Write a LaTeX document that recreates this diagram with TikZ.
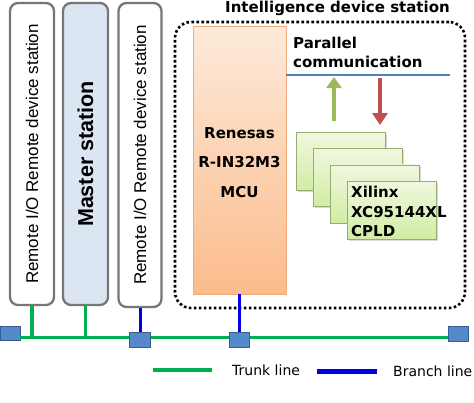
\documentclass[tikz,border=0pt]{standalone}
\usepackage{fontspec}
\setmainfont{Liberation Sans}
\newfontfamily\dejavu{DejaVu Sans}
\usetikzlibrary{arrows.meta, shadows, positioning}

\definecolor{stationgray}{RGB}{118,118,118}
\definecolor{masterblue}{RGB}{220,230,242}
\definecolor{trunkgreen}{RGB}{0,176,80}
\definecolor{branchblue}{RGB}{0,0,230}
\definecolor{sqblue}{RGB}{84,138,204}
\definecolor{sqedge}{RGB}{56,93,138}
\definecolor{mcutop}{RGB}{253,234,218}
\definecolor{mcubot}{RGB}{251,188,140}
\definecolor{mcuedge}{RGB}{242,172,124}
\definecolor{busblue}{RGB}{79,129,189}
\definecolor{upgreen}{RGB}{155,187,89}
\definecolor{downred}{RGB}{192,80,77}
\definecolor{cpldtop}{RGB}{240,248,222}
\definecolor{cpldbot}{RGB}{210,236,165}
\definecolor{cpldedge}{RGB}{150,172,112}

\begin{document}
\begin{tikzpicture}[x=1pt, y=-1pt,
    stationbox/.style={draw=stationgray, line width=2.3pt, rounded corners=8pt,
        fill=white, minimum width=44pt, minimum height=302pt, inner sep=0pt},
    stationtext/.style={rotate=90, inner sep=0pt, font=\fontsize{17}{20}\selectfont},
    tapbox/.style={draw=sqedge, fill=sqblue, line width=0.6pt,
        minimum width=20pt, minimum height=14pt, inner sep=0pt},
    trunk/.style={draw=trunkgreen, line width=3pt},
    branch/.style={draw=branchblue, line width=3pt},
    boldtext/.style={inner sep=0pt, font=\dejavu\bfseries\fontsize{15}{19}\selectfont},
    cpldbox/.style={draw=cpldedge, line width=0.6pt, top color=cpldtop, bottom color=cpldbot,
        minimum width=89pt, minimum height=58pt, inner sep=0pt,
        drop shadow={shadow xshift=1.5pt, shadow yshift=-1.5pt, opacity=0.3}}]

    \useasboundingbox (0,0) rectangle (474,402);

    % Draw the intelligence device station frame and its title
    \node[draw, line width=2.6pt, dash pattern=on 2.6pt off 2.4pt, rounded corners=16pt,
        minimum width=290pt, minimum height=286pt] (ids) at (320,165) {};
    \node[boldtext] (idstitle) at (337.5,8) {Intelligence device station};

    % Draw the three stations on the left
    \node[stationbox] (st1) at (32,154) {};
    \node[stationtext] at (st1.center) {Remote I/O Remote device station};
    \node[stationbox, fill=masterblue, minimum width=45pt] (master) at (85.5,154) {};
    \node[stationtext, font=\bfseries\fontsize{21.5}{24}\selectfont] at (master.center) {Master station};
    \node[stationbox, minimum width=43pt, minimum height=304pt] (st3) at (140,155) {};
    \node[stationtext] at (st3.center) {Remote I/O Remote device station};

    % Draw the MCU
    \node[draw=mcuedge, line width=0.5pt, top color=mcutop, bottom color=mcubot,
        minimum width=93pt, minimum height=268pt] (mcu) at (239.5,160) {};
    \node[boldtext, align=center, font=\dejavu\bfseries\fontsize{15}{29.5}\selectfont]
        (mcutext) at ([yshift=-2.5pt]mcu.center) {Renesas\\R-IN32M3\\MCU};

    % Parallel communication bus
    \coordinate (busR) at (450,75);
    \draw[draw=busblue, line width=2pt] (mcu.east |- busR) -- (busR);
    \node[boldtext, align=left, anchor=west] (partext) at (293,52.5) {Parallel\\communication};

    % Draw the stacked CPLD boxes
    \foreach \i/\n in {0/a,1/b,2/c,3/d}
        \node[cpldbox] (cpld\n) at (340.5+17*\i, 161+16.4*\i) {};
    \node[boldtext, align=left, anchor=west, font=\dejavu\bfseries\fontsize{15}{19.5}\selectfont]
        (cpldtext) at (351,211.5) {Xilinx\\XC95144XL\\CPLD};

    % Arrows between the bus and the CPLD
    \coordinate (upfoot) at (334,121);
    \coordinate (downfoot) at (380,125);
    \draw[draw=upgreen, line width=4.5pt, -{Triangle[width=15pt, length=11pt]},
        shorten >=2pt] (upfoot) -- (upfoot |- busR);
    \draw[draw=downred, line width=4.5pt, -{Triangle[width=15pt, length=12pt]},
        shorten <=3pt] (downfoot |- busR) -- (downfoot);

    % Trunk line and its taps
    \node[tapbox] (sq1) at (10,333.5) {};
    \node[tapbox, minimum width=21pt, minimum height=15pt] (sq3) at (140,339.5) {};
    \node[tapbox, minimum height=15pt] (sq4) at (239.5,340) {};
    \node[tapbox, minimum height=15pt] (sq5) at (458,333.5) {};
    \coordinate (tk) at (0,337);
    \draw[trunk] (sq1.east |- tk) -- (sq3.west |- tk)
        (sq3.east |- tk) -- (sq4.west |- tk)
        (sq4.east |- tk) -- (sq5.west |- tk);
    \draw[trunk, line width=3.5pt] (st1.south) -- (st1.south |- tk);
    \draw[trunk, line width=3.5pt] (master.south) -- (master.south |- tk);
    \draw[branch] (st3.south) -- (sq3.north);
    \draw[branch] (mcu.south) -- (sq4.north);

    % Legend
    \node[inner sep=0pt, anchor=west, font=\dejavu\fontsize{14}{16}\selectfont] (trunktxt) at (232,370) {Trunk line};
    \node[inner sep=0pt, anchor=west, font=\dejavu\fontsize{14}{16}\selectfont] (branchtxt) at (393,371) {Branch line};
    \coordinate (trunkkey) at (153,370);
    \coordinate (branchkey) at (317,371);
    \draw[trunk, line width=4.5pt] (trunkkey) -- ([xshift=-20pt]trunktxt.west);
    \draw[branch, line width=5pt] (branchkey) -- ([xshift=-16pt]branchtxt.west);
\end{tikzpicture}
\end{document}
